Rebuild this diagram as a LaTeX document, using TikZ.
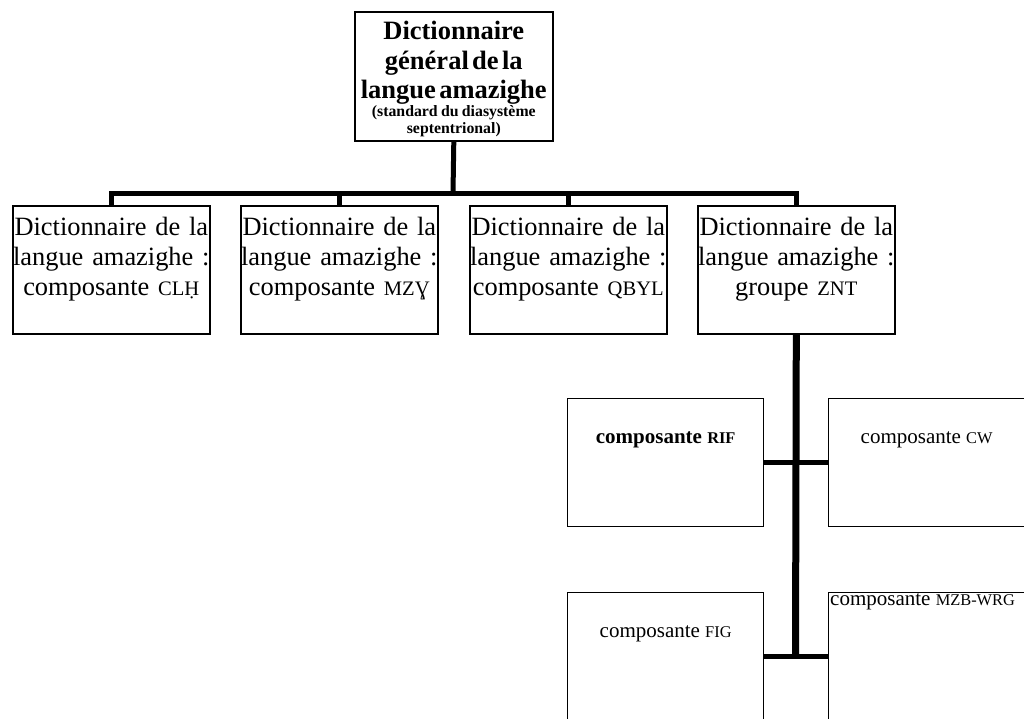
\documentclass[tikz,border=0pt]{standalone}
\usepackage{fontspec}
\setmainfont{LiberationSerif}[Extension=.ttf,UprightFont=*-Regular,BoldFont=*-Bold,ItalicFont=*-Italic,BoldItalicFont=*-BoldItalic]
\usetikzlibrary{positioning}
\makeatletter
\newcommand\pcap[1]{{\fontsize{\fpeval{0.78*\f@size}}{\f@baselineskip}\selectfont #1}}
\makeatother

\begin{document}
\begin{tikzpicture}[x=1pt,y=-1pt]
	\useasboundingbox (0,0) rectangle (1024,718);
	
	\tikzset{box/.style = {draw,line width=1.6pt,anchor=north west,inner sep=0pt}}
	\tikzset{bigbox/.style = {box,minimum width=197pt,minimum height=128pt}}
	\tikzset{smallbox/.style = {box,line width=1.3pt,minimum width=196pt,minimum height=128pt}}
	\tikzset{txt/.style = {inner sep=0pt,align=center}}
	\tikzset{conn/.style = {line width=5pt}}
	\tikzset{trunk/.style = {line width=7pt}}
	
	\node[box,minimum width=198pt,minimum height=129pt] (top) at (354,11) {};
	\node[txt,text width=200pt,below=10pt of top.north] (ttop) {\bfseries
		\fontsize{26.5}{29.5}\selectfont Dictionnaire\\ général de la\\ langue amazighe\par
		\vspace{0.5pt}\fontsize{15.8}{16.5}\selectfont (standard du diasystème\\ septentrional)\par};
	
	\node[bigbox] (d1) at (12,205) {};
	\node[bigbox] (d2) at (240,205) {};
	\node[bigbox] (d3) at (469,205) {};
	\node[bigbox] (d4) at (697,205) {};
	
	\tikzset{txt/.append style = {text width=210pt,font=\fontsize{26.4}{30}\selectfont}}
	\node[txt,below=11.5pt of d1.north] (t1) {Dictionnaire de la\\ langue amazighe :\\ composante \pcap{CLḤ}};
	\node[txt,below=11.5pt of d2.north] (t2) {Dictionnaire de la\\ langue amazighe :\\ composante \pcap{MZƔ}};
	\node[txt,below=11.5pt of d3.north] (t3) {Dictionnaire de la\\ langue amazighe :\\ composante \pcap{QBYL}};
	\node[txt,below=11.5pt of d4.north] (t4) {Dictionnaire de la\\ langue amazighe :\\ groupe \pcap{ZNT}};
	
	\node[smallbox] (rif) at (567,398) {};
	\node[smallbox] (cw) at (828,398) {};
	\node[smallbox] (fig) at (567,592) {};
	\node[smallbox] (mzb) at (828,592) {};
	
	\tikzset{lbl/.style = {inner sep=0pt,font=\fontsize{21}{24}\selectfont}}
	\node[lbl,below=33pt of rif.north] (trif) {\bfseries composante \pcap{RIF}};
	\node[lbl,below=33pt of cw.north] (tcw) {composante \pcap{CW}};
	\node[lbl,below=33pt of fig.north] (tfig) {composante \pcap{FIG}};
	\node[lbl,anchor=north west] (tmzb) at ([xshift=2pt,yshift=-1.5pt]mzb.north west) {composante \pcap{MZB-WRG}};
	
	\coordinate (bus) at (453,193);
	\coordinate (trunkend) at (795.5,658);
	
	\draw[conn] (top.south) -- (bus);
	\draw[conn] (d1.north) |- (bus) -| (d4.north);
	\draw[conn] (d2.north) -- (d2.north |- bus);
	\draw[conn] (d3.north) -- (d3.north |- bus);
	
	\draw[trunk] (d4.south) -- (trunkend);
	\draw[conn] (rif.east) -- (cw.west);
	\draw[conn] (fig.east) -- (mzb.west);
\end{tikzpicture}
\end{document}
